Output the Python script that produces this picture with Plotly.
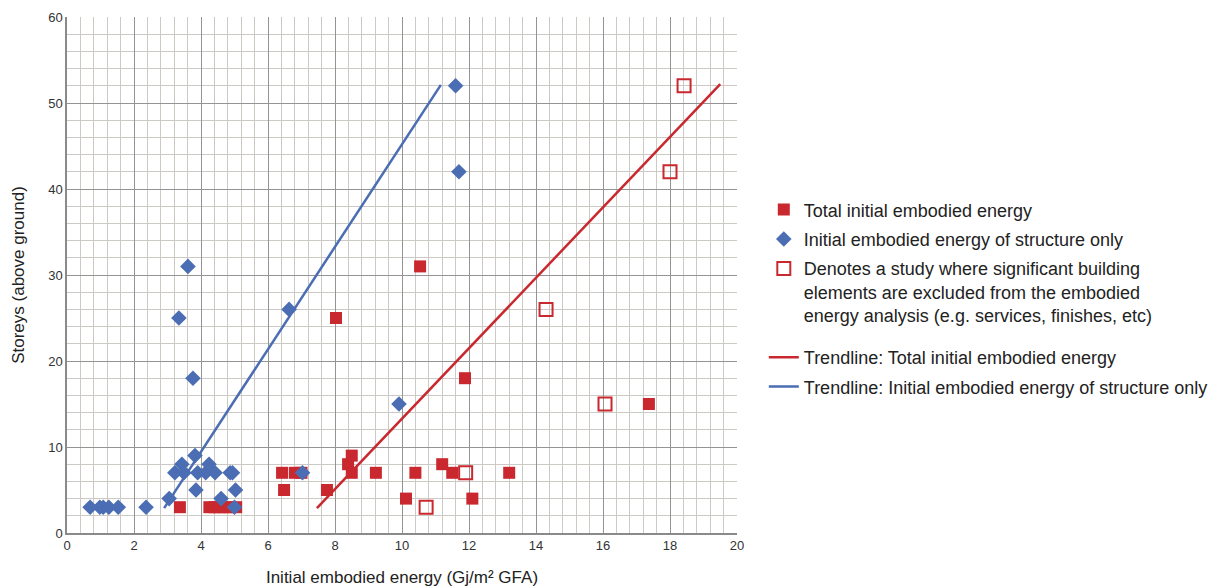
import plotly.graph_objects as go

# Total initial embodied energy (filled red squares)
total_x = [3.37, 4.25, 4.4, 4.55, 4.7, 4.85, 5.05, 6.42, 6.48, 6.8, 7.0, 7.76, 8.39, 8.5, 8.5,
           9.22, 10.12, 10.4, 11.2, 11.5, 12.1, 13.2, 17.37, 8.03, 10.54, 11.88]
total_y = [3, 3, 3, 3, 3, 3, 3, 7, 5, 7, 7, 5, 8, 9, 7,
           7, 4, 7, 8, 7, 4, 7, 15, 25, 31, 18]

# Initial embodied energy of structure only (blue diamonds)
struct_x = [0.69, 0.98, 1.08, 1.25, 1.53, 2.36, 3.05, 3.22, 3.43, 3.49, 3.34, 3.61, 3.76,
            3.82, 3.85, 3.9, 4.14, 4.24, 4.42, 4.6, 4.87, 4.94, 5.03, 5.0, 7.03, 6.63,
            9.91, 11.6, 11.7]
struct_y = [3, 3, 3, 3, 3, 3, 4, 7, 8, 7, 25, 31, 18,
            9, 5, 7, 7, 8, 7, 4, 7, 7, 5, 3, 7, 26,
            15, 52, 42]

# Studies with significant elements excluded (open red squares)
excl_x = [10.72, 11.9, 14.3, 16.06, 18.0, 18.42]
excl_y = [3, 7, 26, 15, 42, 52]

# Trendlines (end points)
trend_total_x = [7.46, 19.5]
trend_total_y = [2.9, 52.2]
trend_struct_x = [2.9, 11.16]
trend_struct_y = [2.9, 52.1]

RED = "#C8282E"
BLUE = "#4A6DB3"

fig = go.Figure()
fig.add_trace(go.Scatter(x=trend_struct_x, y=trend_struct_y, mode="lines",
                         line=dict(color=BLUE, width=2.5),
                         name="Trendline: Initial embodied energy of structure only",
                         legend="legend2", legendrank=2, legendgroup="t2"))
fig.add_trace(go.Scatter(x=trend_total_x, y=trend_total_y, mode="lines",
                         line=dict(color=RED, width=2.5),
                         name="Trendline: Total initial embodied energy",
                         legend="legend2", legendrank=1, legendgroup="t1"))
fig.add_trace(go.Scatter(x=total_x, y=total_y, mode="markers",
                         marker=dict(symbol="square", size=12, color=RED),
                         name="Total initial embodied energy", legendrank=1, legendgroup="m1"))
fig.add_trace(go.Scatter(x=struct_x, y=struct_y, mode="markers",
                         marker=dict(symbol="diamond", size=12, color=BLUE),
                         name="Initial embodied energy of structure only", legendrank=2,
                         legendgroup="m2"))
fig.add_trace(go.Scatter(x=excl_x, y=excl_y, mode="markers",
                         marker=dict(symbol="square-open", size=13, color=RED,
                                     line=dict(width=2, color=RED)),
                         name="Denotes a study where significant building<br>elements are excluded from the embodied<br>energy analysis (e.g. services, finishes, etc)",
                         legendrank=3, legendgroup="m3"))

fig.update_layout(
    width=1224, height=587,
    margin=dict(l=59, r=495, t=9, b=62, autoexpand=False),
    paper_bgcolor="white", plot_bgcolor="white",
    font=dict(family="Liberation Sans, Arial, sans-serif", color="#222"),
    legend=dict(x=1.04, y=0.662, xanchor="left", yanchor="top", valign="top",
                font=dict(size=18, color="#222"), bgcolor="rgba(0,0,0,0)",
                traceorder="grouped", tracegroupgap=3),
    legend2=dict(x=1.04, y=0.376, xanchor="left", yanchor="top",
                 font=dict(size=18, color="#222"), bgcolor="rgba(0,0,0,0)",
                 traceorder="grouped", tracegroupgap=3),
)
fig.update_xaxes(range=[0, 20], dtick=2, tick0=0, showgrid=True, gridcolor="#949494", gridwidth=1,
                 minor=dict(dtick=0.4, showgrid=True, gridcolor="#cdc9c4", gridwidth=1),
                 showline=True, linecolor="#8a8a8a", linewidth=1.5, zeroline=False,
                 ticks="", tickfont=dict(size=13, color="#333"), automargin=False,
                 title=dict(text="Initial embodied energy (Gj/m² GFA)", font=dict(size=17, color="#222"),
                            standoff=19))
fig.update_yaxes(range=[0, 60], dtick=10, tick0=0, showgrid=True, gridcolor="#949494", gridwidth=1,
                 minor=dict(dtick=2, showgrid=True, gridcolor="#cdc9c4", gridwidth=1),
                 showline=True, linecolor="#8a8a8a", linewidth=1.5, zeroline=False,
                 ticks="", tickfont=dict(size=13, color="#333"), automargin=False,
                 title=dict(text="Storeys (above ground)", font=dict(size=17, color="#222"),
                            standoff=19))

fig.write_html("out.html")
